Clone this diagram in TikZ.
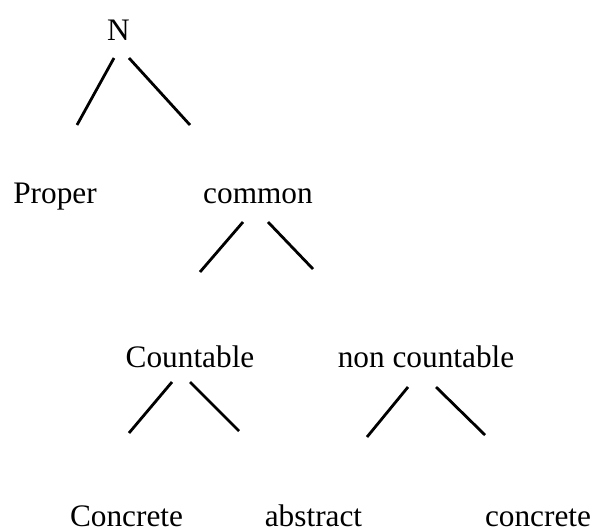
\documentclass[tikz,border=0pt]{standalone}
\usepackage{fontspec}
\setmainfont{Liberation Serif}
\begin{document}
\begin{tikzpicture}[x=1pt,y=-1pt,
  lbl/.style={anchor=base,inner sep=0pt,font=\fontsize{31.3}{36}\selectfont},
  branch/.style={line width=2.8pt,line cap=butt}]
\useasboundingbox (0,0) rectangle (594,531);
\node[lbl] (N) at (118.5,40) {N};
\node[lbl] (proper) at (55,203) {Proper};
\node[lbl] (common) at (258,203) {common};
\node[lbl] (countable) at (190,367) {Countable};
\node[lbl] (noncount) at (426,367) {non countable};
\node[lbl] (concrete1) at (126.5,526.5) {Concrete};
\node[lbl] (abstract) at (313.5,526.5) {abstract};
\node[lbl] (concrete2) at (538,526.5) {concrete};
% branch end points
\coordinate (n1a) at (114,58);  \coordinate (n1b) at (77,125);
\coordinate (n2a) at (129,58);  \coordinate (n2b) at (190,125);
\coordinate (c1a) at (243,222); \coordinate (c1b) at (200,272);
\coordinate (c2a) at (268,222); \coordinate (c2b) at (313,269);
\coordinate (k1a) at (172,382); \coordinate (k1b) at (129,433);
\coordinate (k2a) at (190,382); \coordinate (k2b) at (239,431);
\coordinate (u1a) at (408,387); \coordinate (u1b) at (367,437);
\coordinate (u2a) at (436,387); \coordinate (u2b) at (485,435);
\draw[branch] (n1a) -- (n1b);
\draw[branch] (n2a) -- (n2b);
\draw[branch] (c1a) -- (c1b);
\draw[branch] (c2a) -- (c2b);
\draw[branch] (k1a) -- (k1b);
\draw[branch] (k2a) -- (k2b);
\draw[branch] (u1a) -- (u1b);
\draw[branch] (u2a) -- (u2b);
\end{tikzpicture}
\end{document}
